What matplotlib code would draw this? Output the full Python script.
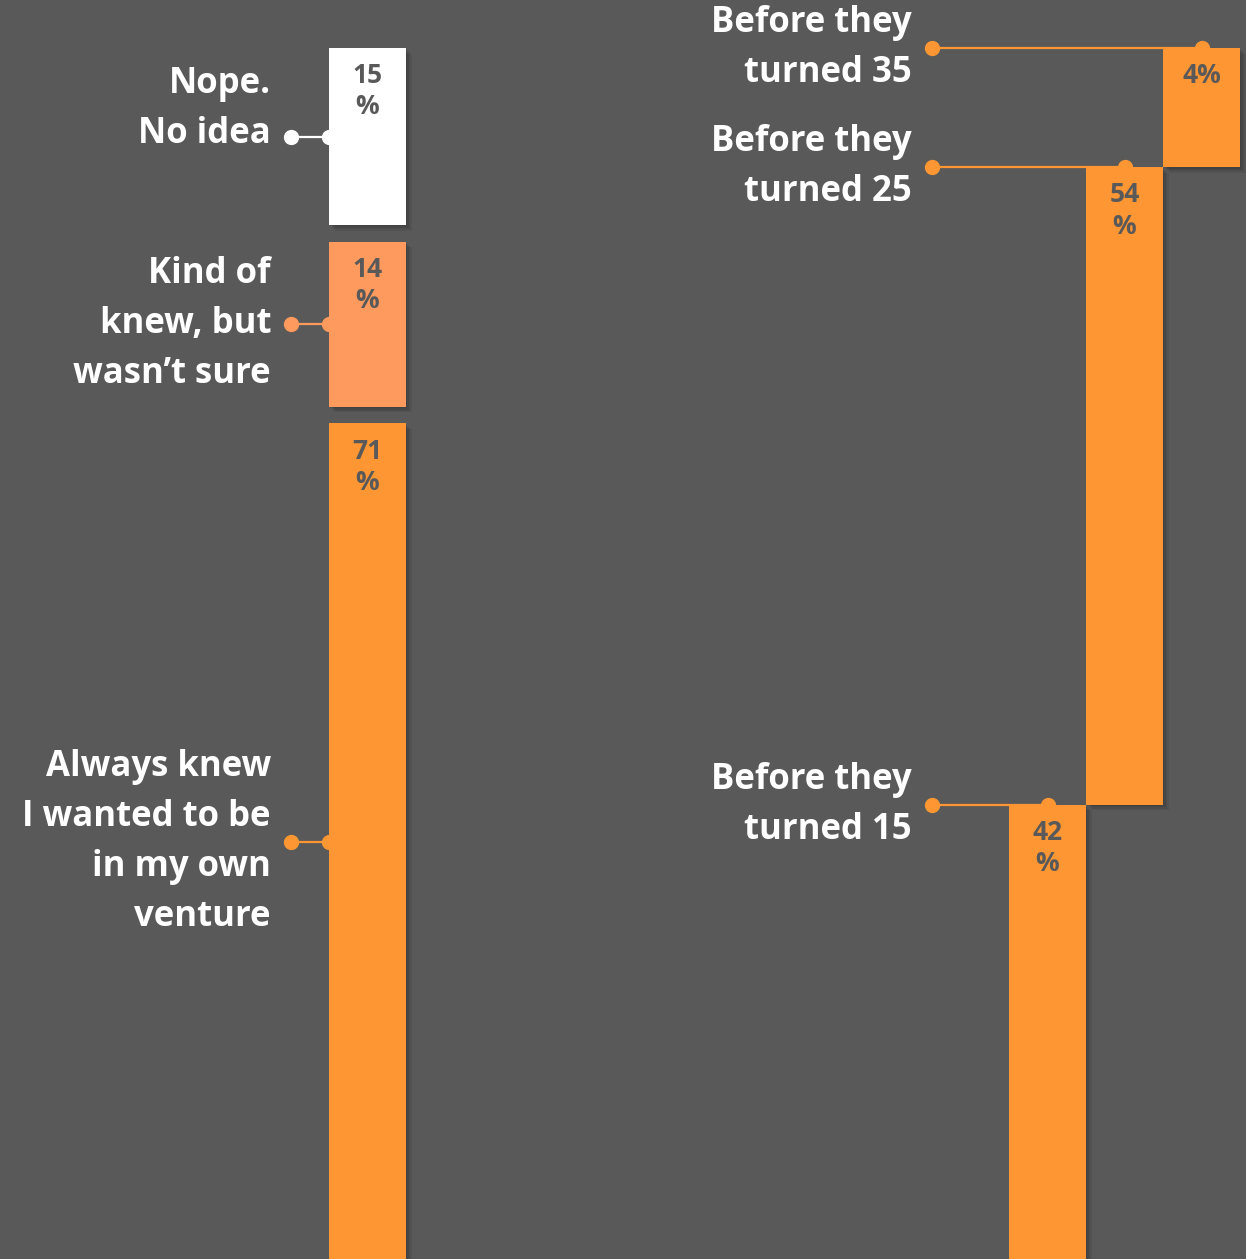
import matplotlib.pyplot as plt
import matplotlib.patheffects as pe

# left column: did they always know
left_labels = ["Nope.\nNo idea", "Kind of\nknew, but\nwasn\u2019t sure",
               "Always knew\nI wanted to be\nin my own\nventure"]
left_values = [15, 14, 71]
left_colors = ["#FFFFFF", "#FE9A5E", "#FE9733"]

# right column: when did they start
right_labels = ["Before they\nturned 35", "Before they\nturned 25", "Before they\nturned 15"]
right_values = [4, 54, 42]
right_color = "#FE9733"

bg = "#595959"
gap = 1.4          # space between stacked segments (in %)
min_show = 10.1    # smallest bar drawn so the label fits

plt.rcParams['font.family'] = ['Open Sans', 'DejaVu Sans']

fig = plt.figure(figsize=(12.46, 12.59), dpi=100, facecolor=bg)
ax = fig.add_axes([0, 0, 1, 1])
ax.set_facecolor(bg)
ax.set_xlim(0, 1246)
ax.set_ylim(102.6, -4.07)
ax.axis('off')

shadow = [pe.SimplePatchShadow(offset=(d, -d), shadow_rgbFace='black', alpha=0.07)
          for d in (1, 2, 3, 4)] + [pe.Normal()]

lab_kw = dict(ha='right', va='center', color='white', fontsize=25,
              fontweight='bold', linespacing=1.52, textcoords='offset points')
val_kw = dict(ha='center', va='top', color=bg, fontsize=19, fontweight='bold',
              linespacing=1.2, zorder=4)

def value_text(v):
    return f"{v}%" if v < 10 else f"{v}\n%"

# left stacked bar
bw = 77
x0 = 329
start = 0
for i, (lab, v, c) in enumerate(zip(left_labels, left_values, left_colors)):
    bars = ax.bar(x0, v, bottom=start, width=bw, align='edge', color=c, zorder=3)
    for b in bars:
        b.set_path_effects(shadow)
    mid = start + v / 2
    ax.plot([291, x0], [mid, mid], color=c, lw=1.6, marker='o', ms=10, zorder=2)
    # the short top label sits with its last line on the connector
    dy = 20 if i == 0 else 0
    ax.annotate(lab, (271, mid), xytext=(0, dy), **lab_kw)
    ax.text(x0 + bw / 2, start + 1.2, value_text(v), **val_kw)
    start += v + gap

# right staircase (latest age at top right)
xr = 1163
start = 0
for lab, v in zip(right_labels, right_values):
    h = max(v, min_show)
    bars = ax.bar(xr, h, bottom=start, width=bw, align='edge', color=right_color, zorder=3)
    for b in bars:
        b.set_path_effects(shadow)
    xc = xr + bw / 2
    ax.plot([932, xc], [start, start], color=right_color, lw=1.6, marker='o', ms=10, zorder=2)
    ax.annotate(lab, (912, start), xytext=(0, 0), **lab_kw)
    ax.text(xc, start + 1.2, value_text(v), **val_kw)
    start += h
    xr -= bw

fig.savefig("out.png", dpi=100, facecolor=bg)
